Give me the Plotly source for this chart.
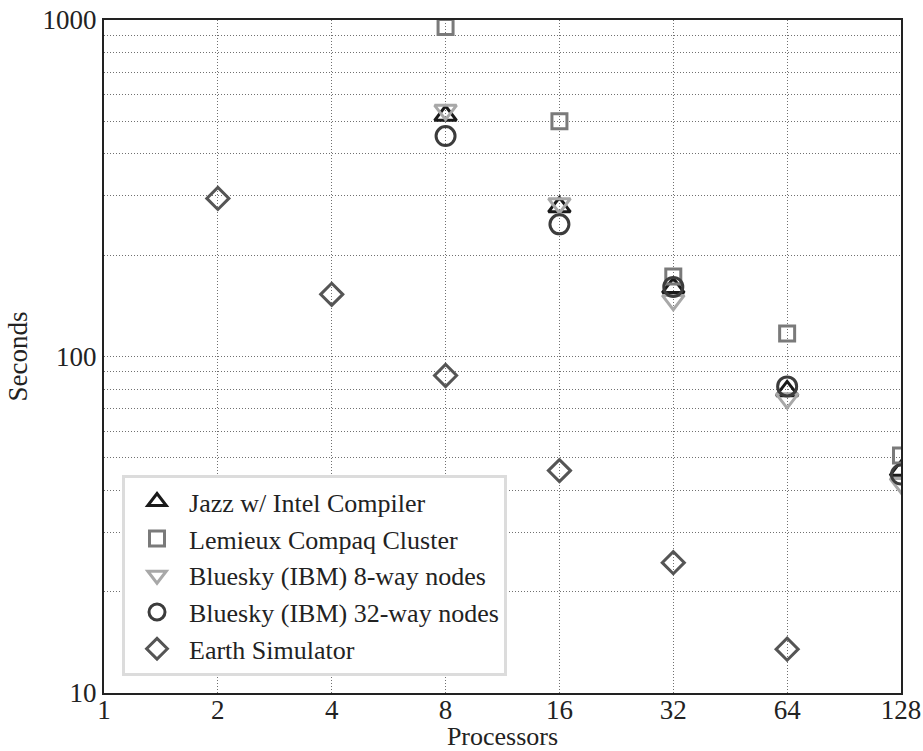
import plotly.graph_objects as go

processors = [8, 16, 32, 64, 128]
jazz = [520, 278, 160, 79, 45.8]
lemieux = [953, 500, 173, 117, 50.8]
bluesky8 = [540, 285, 147, 75, 42]
bluesky32 = [452, 247, 161, 81.5, 44.6]
earth_procs = [2, 4, 8, 16, 32, 64]
earth = [295, 153, 87.8, 45.8, 24.4, 13.5]

x_ticks = [1, 2, 4, 8, 16, 32, 64, 128]
y_grid = [v * m for m in (10, 100) for v in range(1, 10)] + [1000]
y_labels = [str(v) if v in (10, 100, 1000) else "" for v in y_grid]

series = [
    ("Jazz w/ Intel Compiler", processors, jazz, "triangle-up-open", "#1a1a1a", 19),
    ("Lemieux Compaq Cluster", processors, lemieux, "square-open", "#7a7a7a", 15),
    ("Bluesky (IBM) 8-way nodes", processors, bluesky8, "triangle-down-open", "#a8a8a8", 19),
    ("Bluesky (IBM) 32-way nodes", processors, bluesky32, "circle-open", "#3c3c3c", 19),
    ("Earth Simulator", earth_procs, earth, "diamond-open", "#555555", 17),
]

fig = go.Figure()
for name, xs, ys, sym, col, sz in series:
    fig.add_trace(go.Scatter(
        x=xs, y=ys, mode="markers", name=name,
        marker=dict(symbol=sym, size=sz, color=col, line=dict(width=3, color=col)),
    ))

font_family = "Liberation Serif"
grid_dash = "1px,2px"
fig.update_layout(
    width=923, height=751,
    margin=dict(l=104, r=22, t=20, b=58),
    paper_bgcolor="white", plot_bgcolor="white",
    font=dict(family=font_family, size=27, color="#222"),
    showlegend=True,
    legend=dict(
        x=0.0226, y=0.025, xanchor="left", yanchor="bottom",
        bgcolor="white", bordercolor="#dcdcdc", borderwidth=3,
        font=dict(family=font_family, size=26, color="#222"),
        tracegroupgap=0, itemwidth=54,
    ),
    xaxis=dict(
        type="log", range=[0, 2.10721], tickvals=x_ticks,
        ticktext=[str(v) for v in x_ticks], ticks="", ticklabelstandoff=-8,
        showgrid=True, gridcolor="#707070", griddash=grid_dash, gridwidth=1,
        showline=True, linecolor="#222", linewidth=2, mirror=True,
        zeroline=False, automargin=False,
        tickfont=dict(family=font_family, size=27, color="#222"),
        title=dict(text="Processors", standoff=0,
                   font=dict(family=font_family, size=26, color="#222")),
    ),
    yaxis=dict(
        type="log", range=[1, 3], tickvals=y_grid, ticktext=y_labels, ticks="",
        showgrid=True, gridcolor="#707070", griddash=grid_dash, gridwidth=1,
        showline=True, linecolor="#222", linewidth=2, mirror=True,
        zeroline=False, automargin=False,
        tickfont=dict(family=font_family, size=27, color="#222"),
        title=dict(text="Seconds", standoff=7,
                   font=dict(family=font_family, size=27, color="#222")),
    ),
)

fig.write_html("out.html", config={"displayModeBar": False},
               post_script="document.body.style.margin='0px';")
